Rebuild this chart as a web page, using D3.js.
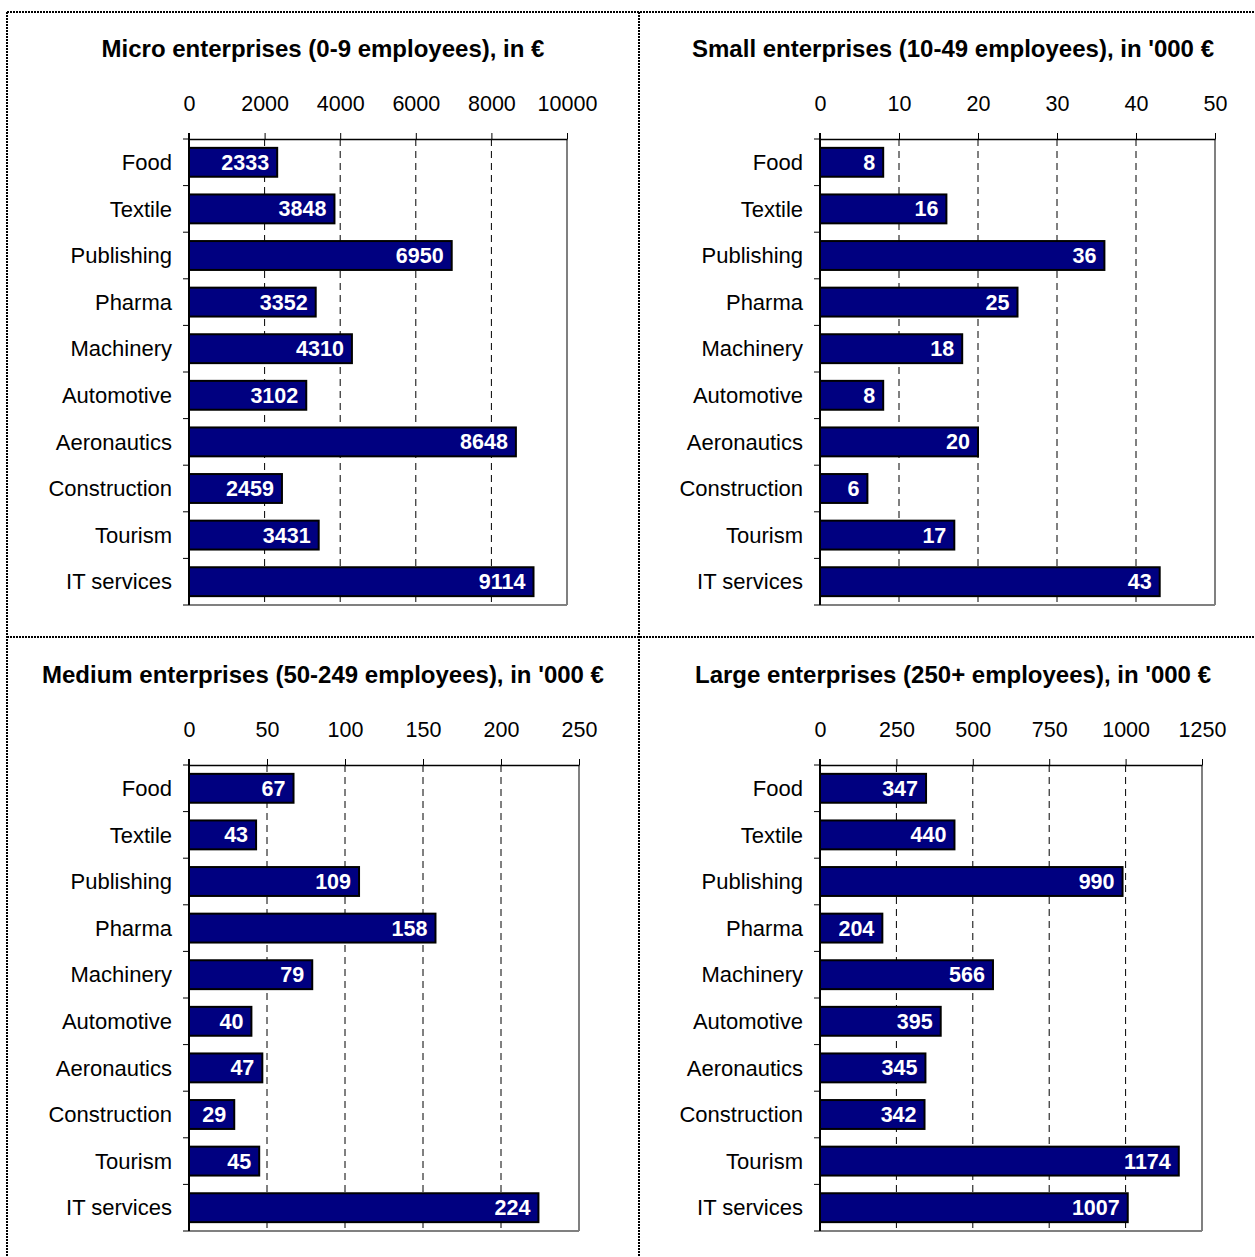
<!DOCTYPE html>
<html><head><meta charset="utf-8">
<script src="https://cdn.jsdelivr.net/npm/d3@7"></script>
<style>body{margin:0;background:#fff}svg{display:block}text{font-family:"Liberation Sans",Arial,sans-serif}</style>
</head><body>
<script>
const categories = ["Food","Textile","Publishing","Pharma","Machinery","Automotive","Aeronautics","Construction","Tourism","IT services"];
const microValues = [2333,3848,6950,3352,4310,3102,8648,2459,3431,9114];
const smallValues = [8,16,36,25,18,8,20,6,17,43];
const mediumValues = [67,43,109,158,79,40,47,29,45,224];
const largeValues = [347,440,990,204,566,395,345,342,1174,1007];
const microTicks = [0,2000,4000,6000,8000,10000];
const smallTicks = [0,10,20,30,40,50];
const mediumTicks = [0,50,100,150,200,250];
const largeTicks = [0,250,500,750,1000,1250];
const titles = ["Micro enterprises (0-9 employees), in €","Small enterprises (10-49 employees), in '000 €","Medium enterprises (50-249 employees), in '000 €","Large enterprises (250+ employees), in '000 €"];

const W=1255,H=1257;
const svg=d3.select("body").append("svg").attr("width",W).attr("height",H);

const dash="2,1";
const sep=[[7,12,1255,12],[7,12,7,1257],[639,12,639,1257],[7,637,1255,637]];
sep.forEach(s=>svg.append("line").attr("x1",s[0]).attr("y1",s[1]).attr("x2",s[2]).attr("y2",s[3]).attr("stroke","#000").attr("stroke-width",2).attr("stroke-dasharray",dash));

const panels=[
 {vals:microValues,ticks:microTicks,title:titles[0],x0:189,x1:567,y0:139,y1:605,tx:323,ty:51},
 {vals:smallValues,ticks:smallTicks,title:titles[1],x0:820,x1:1215,y0:139,y1:605,tx:953,ty:51},
 {vals:mediumValues,ticks:mediumTicks,title:titles[2],x0:189,x1:579,y0:765,y1:1231,tx:323,ty:677},
 {vals:largeValues,ticks:largeTicks,title:titles[3],x0:820,x1:1202,y0:765,y1:1231,tx:953,ty:677}
];

panels.forEach(p=>{
  const g=svg.append("g");
  const x=d3.scaleLinear().domain([p.ticks[0],p.ticks[p.ticks.length-1]]).range([p.x0,p.x1]);
  const y=d3.scaleBand().domain(categories).range([p.y0,p.y1]).paddingInner(0.38).paddingOuter(0.19);
  const yb=d3.scaleBand().domain(categories).range([p.y0,p.y1]);
  g.append("text").attr("x",p.tx).attr("y",p.ty).attr("text-anchor","middle").attr("dominant-baseline","middle")
    .attr("font-size",24).attr("font-weight","bold").text(p.title);
  g.append("line").attr("x1",p.x1).attr("x2",p.x1).attr("y1",p.y0).attr("y2",p.y1).attr("stroke","#808080").attr("stroke-width",2);
  g.append("line").attr("x1",p.x0).attr("x2",p.x1).attr("y1",p.y1).attr("y2",p.y1).attr("stroke","#808080").attr("stroke-width",2);
  g.selectAll(".grid").data(p.ticks.slice(1,-1)).enter().append("line")
    .attr("x1",d=>x(d)).attr("x2",d=>x(d)).attr("y1",p.y0).attr("y2",p.y1)
    .attr("stroke","#000").attr("stroke-width",1).attr("stroke-dasharray","7,5");
  const ax=d3.axisTop(x).tickValues(p.ticks).tickSize(6).tickSizeOuter(0).tickFormat(d3.format("d")).tickPadding(28);
  const ga=g.append("g").attr("transform",`translate(0,${p.y0})`).call(ax);
  ga.select(".domain").attr("stroke","#000").attr("stroke-width",1.5);
  ga.selectAll("text").attr("font-size",21.5).attr("fill","#000").attr("font-family","Liberation Sans, Arial, sans-serif").attr("dy","0.3em");
  g.append("line").attr("x1",p.x0).attr("x2",p.x0).attr("y1",p.y0-6).attr("y2",p.y1).attr("stroke","#000").attr("stroke-width",2);
  const bounds=categories.map(c=>yb(c)).concat([p.y1]);
  g.selectAll(".ct").data(bounds).enter().append("line")
    .attr("x1",p.x0-6).attr("x2",p.x0).attr("y1",d=>d).attr("y2",d=>d).attr("stroke","#000").attr("stroke-width",1);
  g.selectAll(".cl").data(categories).enter().append("text")
    .attr("x",p.x0-17).attr("y",d=>y(d)+y.bandwidth()/2).attr("dy","0.35em")
    .attr("text-anchor","end").attr("font-size",22).text(d=>d);
  g.selectAll(".bar").data(p.vals).enter().append("rect")
    .attr("x",p.x0).attr("y",(d,i)=>y(categories[i])).attr("width",d=>x(d)-p.x0).attr("height",y.bandwidth())
    .attr("fill","#000080").attr("stroke","#000").attr("stroke-width",2);
  g.selectAll(".vl").data(p.vals).enter().append("text")
    .attr("x",d=>x(d)-8).attr("y",(d,i)=>y(categories[i])+y.bandwidth()/2).attr("dy","0.35em")
    .attr("text-anchor","end").attr("font-size",21.5).attr("font-weight","bold").attr("fill","#fff").text(d=>d);
});
</script>
</body></html>
